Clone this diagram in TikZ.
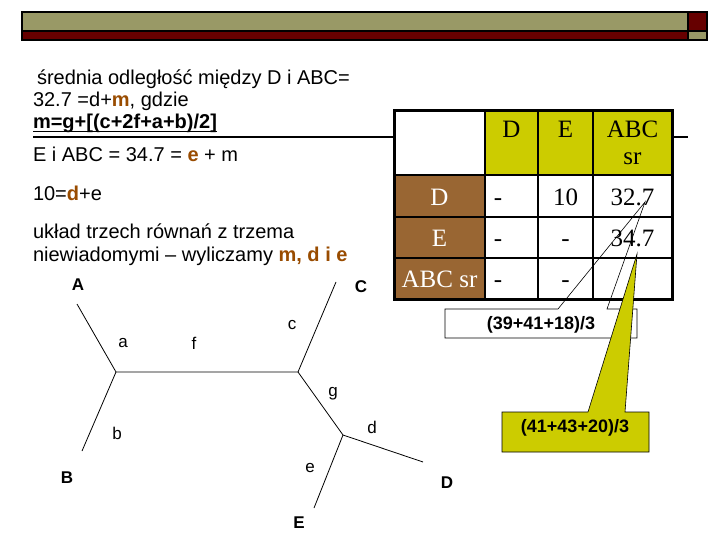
\documentclass[tikz,border=0pt]{standalone}
\usepackage{fontspec}
\setmainfont{Liberation Sans}
\newfontfamily\tnr{Liberation Serif}
\definecolor{olivebar}{RGB}{153,153,102}
\definecolor{darkred}{RGB}{102,0,0}
\definecolor{yel}{RGB}{204,204,0}
\definecolor{cellbrown}{RGB}{153,102,51}
\definecolor{txtbrown}{RGB}{153,76,0}
\tikzset{
  lt/.style={anchor=base west, font=\fontsize{20}{23}\selectfont},
  tb/.style={anchor=base, font=\tnr\fontsize{25}{28}\selectfont},
  tbw/.style={tb, text=white},
  lbl/.style={anchor=center, font=\fontsize{17}{19}\selectfont},
  blbl/.style={lbl, font=\bfseries\fontsize{17}{19}\selectfont},
  branch/.style={line width=0.8pt},
  callt/.style={anchor=center, font=\bfseries\fontsize{18}{20}\selectfont},
}
\newcommand{\hl}[1]{\textbf{\color{txtbrown}#1}}
\begin{document}
\begin{tikzpicture}[x=1pt,y=-1pt, every node/.style={inner sep=0pt, outer sep=0pt}]
\useasboundingbox[fill=white] (0,0) rectangle (720,540);

% header bar
\filldraw[fill=olivebar, draw=black, line width=1.5pt] (22,12) rectangle (688,31);
\filldraw[fill=darkred, draw=black, line width=1.5pt] (688,12) rectangle (707,31);
\filldraw[fill=darkred, draw=black, line width=1.5pt] (22,31) rectangle (688,40);
\filldraw[fill=olivebar, draw=black, line width=1.5pt] (688,31) rectangle (707,40);

% left text
\node[lt] (t1) at (37,85) {średnia odległość między D i ABC=};
\node[lt] (t2) at (33,107) {32.7 =d+\hl{m}, gdzie};
\node[lt] (t3) at (33,129) {\textbf{m=g+[(c+2f+a+b)/2]}};
\draw[line width=1pt] ([yshift=-2.5pt]t3.base west) -- ([yshift=-2.5pt]t3.base east);
\coordinate (sepL) at (33,137);
\coordinate (sepR) at (688,137);
\draw[line width=1.5pt] (sepL) -- (sepR);
\node[lt] (t4) at (33,162) {E i ABC = 34.7 = \hl{e} + m};
\node[lt] (t5) at (33,201) {10=\hl{d}+e};
\node[lt] (t6) at (33,238) {układ trzech równań z trzema};
\node[lt] (t7) at (33,261) {niewiadomymi – wyliczamy \hl{m, d i e}};

% table
\fill[white] (394,111) rectangle (672,299);
\fill[yel] (485,111) rectangle (672,175);
\fill[cellbrown] (394,175) rectangle (485,299);
\draw[line width=2pt] (485,111) -- (485,299) (538,111) -- (538,299) (593,111) -- (593,299);
\draw[line width=2pt] (394,175) -- (672,175) (394,217) -- (672,217) (394,258) -- (672,258);
\draw[line width=3pt] (394,111) rectangle (672,299);

\node[tb] (hD) at (511.5,138) {D};
\node[tb] (hE) at (565.5,138) {E};
\node[tb] (hA) at (632.5,138) {ABC};
\node[tb] (hA2) at (632.5,165) {sr};
\node[tbw] (rD) at (439.5,206) {D};
\node[tbw] (rE) at (439.5,246) {E};
\node[tbw] (rA) at (439.5,287) {ABC sr};
\node[tb] (c11) at (498,206) {-};
\node[tb] (c12) at (565.5,206) {10};
\node[tb] (c13) at (632.5,206) {32.7};
\node[tb] (c21) at (498,246) {-};
\node[tb] (c22) at (565.5,246) {-};
\node[tb] (c23) at (632.5,246) {34.7};
\node[tb] (c31) at (498,287) {-};
\node[tb] (c32) at (565.5,287) {-};

% white callout
\fill[white] (445,309) rectangle (637,338);
\coordinate (w1) at (645,202);
\draw[line width=0.6pt] (558,309) -- (445,309) -- (445,338) -- (637,338) -- (637,309) -- (607,309) -- (w1) -- cycle;
\node[callt] (call1) at (541,325) {(39+41+18)/3};

% yellow callout
\coordinate (w2) at (637,254);
\filldraw[fill=yel, draw=black, line width=0.6pt] (502,412) -- (588,412) -- (w2) -- (625,412) -- (649,412) -- (649,452) -- (502,452) -- cycle;
\node[callt] (call2) at (575,428) {(41+43+20)/3};

% tree
\coordinate (n1) at (116,372);
\coordinate (n2) at (298,372);
\coordinate (n3) at (343,435);
\coordinate (eA) at (77,304);
\coordinate (eB) at (82,451);
\coordinate (eC) at (336,282);
\coordinate (eD) at (423,462);
\coordinate (eE) at (314,508);
\draw[branch] (eA) -- (n1) -- (eB);
\draw[branch] (n1) -- (n2) -- (eC);
\draw[branch] (n2) -- (n3) -- (eD);
\draw[branch] (n3) -- (eE);

\node[blbl] (lA) at (78,285) {A};
\node[blbl] (lB) at (67,478) {B};
\node[blbl] (lC) at (361,287) {C};
\node[blbl] (lD) at (447,483) {D};
\node[blbl] (lE) at (299,523) {E};
\node[lbl] (la) at (123,343) {a};
\node[lbl] (lf) at (194,343) {f};
\node[lbl] (lc) at (292,325) {c};
\node[lbl] (lg) at (333,394) {g};
\node[lbl] (ld) at (372,427) {d};
\node[lbl] (lb) at (117,433) {b};
\node[lbl] (le) at (310,468) {e};
\end{tikzpicture}
\end{document}
